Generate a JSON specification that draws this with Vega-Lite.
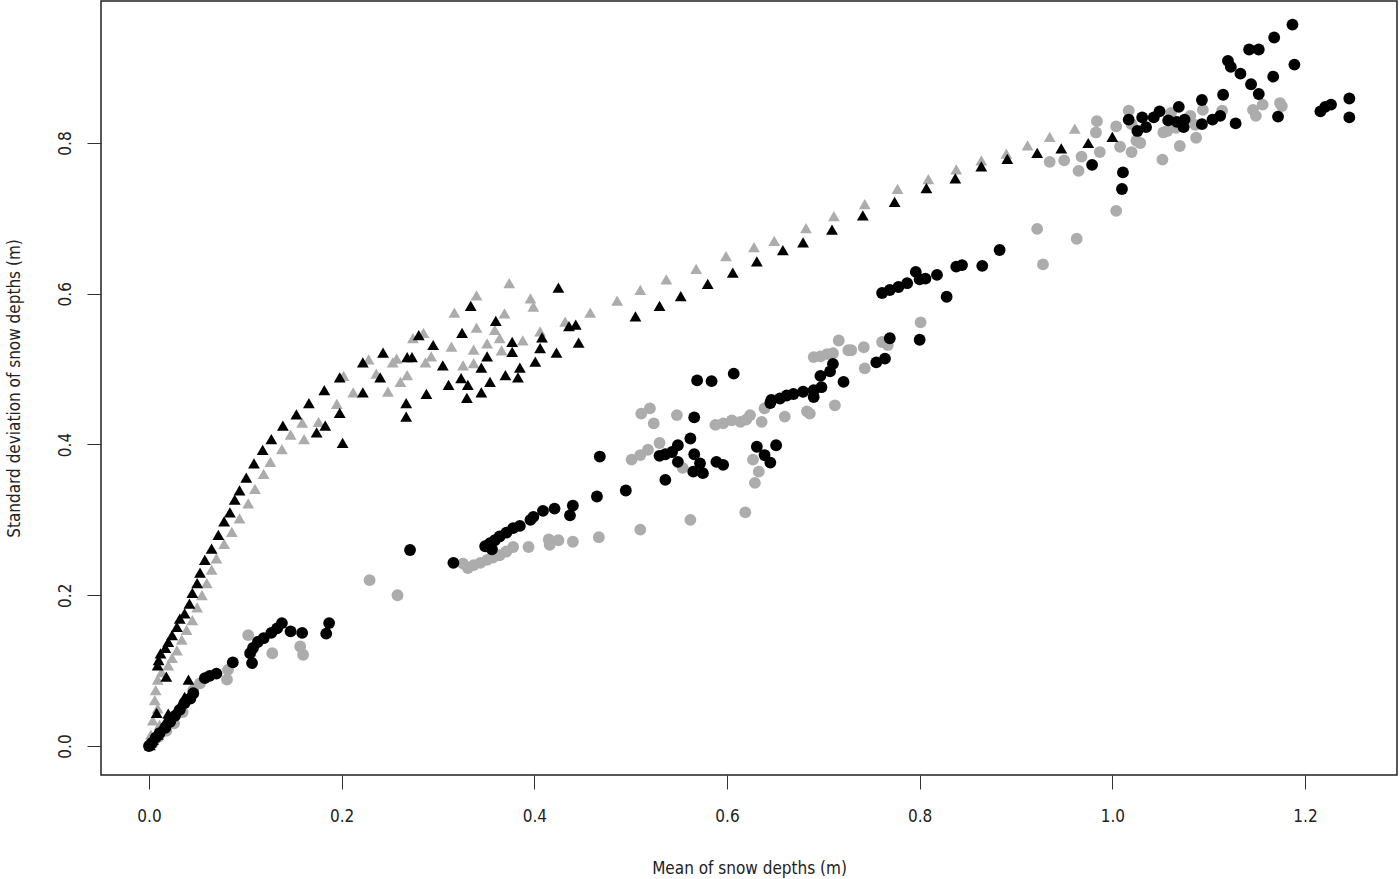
{
  "$schema": "https://vega.github.io/schema/vega-lite/v6.json",
  "width": 1296,
  "height": 774,
  "autosize": {"type": "none"},
  "padding": {"left": 101, "top": 1, "right": 3, "bottom": 104},
  "background": "white",
  "config": {"view": {"stroke": "#222222", "strokeWidth": 1.5}, "font": "'DejaVu Sans Condensed', 'Liberation Sans', sans-serif"},
  "datasets": {
    "pts": [
      {"s":"B","x":0.002,"y":0.015},{"s":"B","x":0.004,"y":0.034},{"s":"B","x":0.011,"y":0.028},{"s":"B","x":0.009,"y":0.050},{"s":"B","x":0.006,"y":0.061},{"s":"B","x":0.007,"y":0.074},{"s":"B","x":0.009,"y":0.088},{"s":"B","x":0.013,"y":0.098},{"s":"B","x":0.020,"y":0.107},{"s":"B","x":0.024,"y":0.117},{"s":"B","x":0.029,"y":0.127},{"s":"B","x":0.034,"y":0.141},{"s":"B","x":0.039,"y":0.154},{"s":"B","x":0.045,"y":0.167},{"s":"B","x":0.050,"y":0.184},{"s":"B","x":0.055,"y":0.200},{"s":"B","x":0.060,"y":0.216},{"s":"B","x":0.065,"y":0.234},{"s":"B","x":0.070,"y":0.249},{"s":"B","x":0.078,"y":0.268},{"s":"B","x":0.086,"y":0.284},{"s":"B","x":0.094,"y":0.302},{"s":"B","x":0.103,"y":0.322},{"s":"B","x":0.110,"y":0.341},{"s":"B","x":0.119,"y":0.361},{"s":"B","x":0.126,"y":0.377},{"s":"B","x":0.138,"y":0.394},{"s":"B","x":0.147,"y":0.413},{"s":"B","x":0.161,"y":0.407},{"s":"B","x":0.159,"y":0.429},{"s":"B","x":0.176,"y":0.430},{"s":"B","x":0.195,"y":0.454},{"s":"B","x":0.202,"y":0.491},{"s":"B","x":0.212,"y":0.469},{"s":"B","x":0.228,"y":0.513},{"s":"B","x":0.236,"y":0.494},{"s":"B","x":0.248,"y":0.470},{"s":"B","x":0.253,"y":0.509},{"s":"B","x":0.257,"y":0.514},{"s":"B","x":0.261,"y":0.483},{"s":"B","x":0.268,"y":0.492},{"s":"B","x":0.274,"y":0.541},{"s":"B","x":0.285,"y":0.548},{"s":"B","x":0.287,"y":0.509},{"s":"B","x":0.293,"y":0.517},{"s":"B","x":0.314,"y":0.530},{"s":"B","x":0.317,"y":0.575},{"s":"B","x":0.326,"y":0.505},{"s":"B","x":0.337,"y":0.508},{"s":"B","x":0.337,"y":0.526},{"s":"B","x":0.340,"y":0.598},{"s":"B","x":0.340,"y":0.555},{"s":"B","x":0.351,"y":0.534},{"s":"B","x":0.359,"y":0.552},{"s":"B","x":0.364,"y":0.541},{"s":"B","x":0.366,"y":0.525},{"s":"B","x":0.369,"y":0.574},{"s":"B","x":0.374,"y":0.614},{"s":"B","x":0.388,"y":0.538},{"s":"B","x":0.396,"y":0.594},{"s":"B","x":0.399,"y":0.583},{"s":"B","x":0.406,"y":0.550},{"s":"B","x":0.432,"y":0.563},{"s":"B","x":0.458,"y":0.575},{"s":"B","x":0.486,"y":0.591},{"s":"B","x":0.510,"y":0.605},{"s":"B","x":0.537,"y":0.619},{"s":"B","x":0.568,"y":0.633},{"s":"B","x":0.599,"y":0.650},{"s":"B","x":0.628,"y":0.662},{"s":"B","x":0.649,"y":0.670},{"s":"B","x":0.682,"y":0.687},{"s":"B","x":0.711,"y":0.703},{"s":"B","x":0.743,"y":0.719},{"s":"B","x":0.777,"y":0.739},{"s":"B","x":0.809,"y":0.752},{"s":"B","x":0.838,"y":0.765},{"s":"B","x":0.864,"y":0.777},{"s":"B","x":0.890,"y":0.786},{"s":"B","x":0.912,"y":0.797},{"s":"B","x":0.935,"y":0.808},{"s":"B","x":0.961,"y":0.819},
      {"s":"D","x":0.004,"y":0.004},{"s":"D","x":0.010,"y":0.012},{"s":"D","x":0.018,"y":0.020},{"s":"D","x":0.026,"y":0.030},{"s":"D","x":0.035,"y":0.045},{"s":"D","x":0.046,"y":0.074},{"s":"D","x":0.053,"y":0.083},{"s":"D","x":0.081,"y":0.088},{"s":"D","x":0.082,"y":0.101},{"s":"D","x":0.103,"y":0.147},{"s":"D","x":0.128,"y":0.123},{"s":"D","x":0.157,"y":0.132},{"s":"D","x":0.160,"y":0.121},{"s":"D","x":0.229,"y":0.220},{"s":"D","x":0.258,"y":0.200},{"s":"D","x":0.326,"y":0.242},{"s":"D","x":0.331,"y":0.236},{"s":"D","x":0.337,"y":0.240},{"s":"D","x":0.344,"y":0.243},{"s":"D","x":0.351,"y":0.247},{"s":"D","x":0.357,"y":0.250},{"s":"D","x":0.364,"y":0.253},{"s":"D","x":0.371,"y":0.258},{"s":"D","x":0.378,"y":0.264},{"s":"D","x":0.394,"y":0.264},{"s":"D","x":0.415,"y":0.274},{"s":"D","x":0.416,"y":0.267},{"s":"D","x":0.425,"y":0.273},{"s":"D","x":0.440,"y":0.271},{"s":"D","x":0.467,"y":0.277},{"s":"D","x":0.510,"y":0.287},{"s":"D","x":0.501,"y":0.380},{"s":"D","x":0.510,"y":0.386},{"s":"D","x":0.518,"y":0.393},{"s":"D","x":0.530,"y":0.402},{"s":"D","x":0.511,"y":0.441},{"s":"D","x":0.520,"y":0.448},{"s":"D","x":0.524,"y":0.428},{"s":"D","x":0.548,"y":0.439},{"s":"D","x":0.554,"y":0.369},{"s":"D","x":0.562,"y":0.300},{"s":"D","x":0.588,"y":0.426},{"s":"D","x":0.596,"y":0.428},{"s":"D","x":0.605,"y":0.432},{"s":"D","x":0.614,"y":0.430},{"s":"D","x":0.620,"y":0.433},{"s":"D","x":0.624,"y":0.439},{"s":"D","x":0.619,"y":0.310},{"s":"D","x":0.627,"y":0.380},{"s":"D","x":0.629,"y":0.349},{"s":"D","x":0.633,"y":0.364},{"s":"D","x":0.636,"y":0.430},{"s":"D","x":0.639,"y":0.448},{"s":"D","x":0.660,"y":0.437},{"s":"D","x":0.683,"y":0.444},{"s":"D","x":0.686,"y":0.441},{"s":"D","x":0.690,"y":0.516},{"s":"D","x":0.697,"y":0.517},{"s":"D","x":0.704,"y":0.520},{"s":"D","x":0.710,"y":0.521},{"s":"D","x":0.712,"y":0.452},{"s":"D","x":0.716,"y":0.538},{"s":"D","x":0.726,"y":0.525},{"s":"D","x":0.729,"y":0.525},{"s":"D","x":0.742,"y":0.529},{"s":"D","x":0.743,"y":0.501},{"s":"D","x":0.761,"y":0.536},{"s":"D","x":0.767,"y":0.532},{"s":"D","x":0.801,"y":0.562},{"s":"D","x":0.922,"y":0.686},{"s":"D","x":0.928,"y":0.639},{"s":"D","x":0.963,"y":0.673},{"s":"D","x":0.935,"y":0.775},{"s":"D","x":0.950,"y":0.777},{"s":"D","x":0.965,"y":0.763},{"s":"D","x":0.968,"y":0.782},{"s":"D","x":0.983,"y":0.814},{"s":"D","x":0.984,"y":0.829},{"s":"D","x":0.987,"y":0.788},{"s":"D","x":1.004,"y":0.822},{"s":"D","x":1.004,"y":0.710},{"s":"D","x":1.008,"y":0.795},{"s":"D","x":1.017,"y":0.843},{"s":"D","x":1.020,"y":0.825},{"s":"D","x":1.020,"y":0.788},{"s":"D","x":1.025,"y":0.803},{"s":"D","x":1.029,"y":0.800},{"s":"D","x":1.052,"y":0.778},{"s":"D","x":1.053,"y":0.814},{"s":"D","x":1.057,"y":0.816},{"s":"D","x":1.061,"y":0.840},{"s":"D","x":1.066,"y":0.820},{"s":"D","x":1.070,"y":0.796},{"s":"D","x":1.081,"y":0.836},{"s":"D","x":1.086,"y":0.824},{"s":"D","x":1.087,"y":0.807},{"s":"D","x":1.094,"y":0.844},{"s":"D","x":1.114,"y":0.843},{"s":"D","x":1.146,"y":0.844},{"s":"D","x":1.149,"y":0.836},{"s":"D","x":1.156,"y":0.851},{"s":"D","x":1.174,"y":0.853},{"s":"D","x":1.176,"y":0.849},
      {"s":"A","x":0.001,"y":0.001},{"s":"A","x":0.004,"y":0.008},{"s":"A","x":0.009,"y":0.015},{"s":"A","x":0.013,"y":0.024},{"s":"A","x":0.017,"y":0.032},{"s":"A","x":0.022,"y":0.037},{"s":"A","x":0.008,"y":0.044},{"s":"A","x":0.020,"y":0.043},{"s":"A","x":0.027,"y":0.045},{"s":"A","x":0.032,"y":0.054},{"s":"A","x":0.037,"y":0.065},{"s":"A","x":0.018,"y":0.092},{"s":"A","x":0.041,"y":0.088},{"s":"A","x":0.009,"y":0.107},{"s":"A","x":0.010,"y":0.114},{"s":"A","x":0.012,"y":0.123},{"s":"A","x":0.017,"y":0.130},{"s":"A","x":0.020,"y":0.138},{"s":"A","x":0.024,"y":0.147},{"s":"A","x":0.029,"y":0.158},{"s":"A","x":0.032,"y":0.169},{"s":"A","x":0.037,"y":0.176},{"s":"A","x":0.042,"y":0.189},{"s":"A","x":0.045,"y":0.203},{"s":"A","x":0.050,"y":0.216},{"s":"A","x":0.053,"y":0.230},{"s":"A","x":0.058,"y":0.247},{"s":"A","x":0.065,"y":0.262},{"s":"A","x":0.072,"y":0.280},{"s":"A","x":0.078,"y":0.298},{"s":"A","x":0.084,"y":0.310},{"s":"A","x":0.089,"y":0.327},{"s":"A","x":0.094,"y":0.339},{"s":"A","x":0.101,"y":0.356},{"s":"A","x":0.109,"y":0.375},{"s":"A","x":0.118,"y":0.393},{"s":"A","x":0.127,"y":0.407},{"s":"A","x":0.139,"y":0.425},{"s":"A","x":0.153,"y":0.440},{"s":"A","x":0.166,"y":0.455},{"s":"A","x":0.182,"y":0.472},{"s":"A","x":0.198,"y":0.489},{"s":"A","x":0.198,"y":0.442},{"s":"A","x":0.183,"y":0.425},{"s":"A","x":0.174,"y":0.416},{"s":"A","x":0.201,"y":0.402},{"s":"A","x":0.222,"y":0.469},{"s":"A","x":0.222,"y":0.509},{"s":"A","x":0.240,"y":0.489},{"s":"A","x":0.243,"y":0.522},{"s":"A","x":0.267,"y":0.455},{"s":"A","x":0.267,"y":0.437},{"s":"A","x":0.268,"y":0.516},{"s":"A","x":0.273,"y":0.516},{"s":"A","x":0.280,"y":0.545},{"s":"A","x":0.288,"y":0.467},{"s":"A","x":0.295,"y":0.532},{"s":"A","x":0.305,"y":0.505},{"s":"A","x":0.311,"y":0.479},{"s":"A","x":0.324,"y":0.488},{"s":"A","x":0.325,"y":0.548},{"s":"A","x":0.330,"y":0.462},{"s":"A","x":0.331,"y":0.479},{"s":"A","x":0.334,"y":0.584},{"s":"A","x":0.345,"y":0.502},{"s":"A","x":0.345,"y":0.469},{"s":"A","x":0.351,"y":0.517},{"s":"A","x":0.354,"y":0.483},{"s":"A","x":0.360,"y":0.564},{"s":"A","x":0.370,"y":0.492},{"s":"A","x":0.377,"y":0.536},{"s":"A","x":0.377,"y":0.523},{"s":"A","x":0.383,"y":0.489},{"s":"A","x":0.385,"y":0.502},{"s":"A","x":0.401,"y":0.510},{"s":"A","x":0.406,"y":0.528},{"s":"A","x":0.408,"y":0.542},{"s":"A","x":0.423,"y":0.522},{"s":"A","x":0.425,"y":0.608},{"s":"A","x":0.436,"y":0.557},{"s":"A","x":0.443,"y":0.559},{"s":"A","x":0.446,"y":0.535},{"s":"A","x":0.505,"y":0.570},{"s":"A","x":0.530,"y":0.584},{"s":"A","x":0.552,"y":0.597},{"s":"A","x":0.580,"y":0.613},{"s":"A","x":0.606,"y":0.628},{"s":"A","x":0.631,"y":0.643},{"s":"A","x":0.658,"y":0.658},{"s":"A","x":0.679,"y":0.668},{"s":"A","x":0.709,"y":0.685},{"s":"A","x":0.741,"y":0.704},{"s":"A","x":0.774,"y":0.722},{"s":"A","x":0.807,"y":0.740},{"s":"A","x":0.837,"y":0.753},{"s":"A","x":0.864,"y":0.769},{"s":"A","x":0.891,"y":0.779},{"s":"A","x":0.922,"y":0.787},{"s":"A","x":0.947,"y":0.793},{"s":"A","x":0.975,"y":0.800},{"s":"A","x":1.000,"y":0.808},
      {"s":"C","x":0.000,"y":0.000},{"s":"C","x":0.003,"y":0.004},{"s":"C","x":0.007,"y":0.011},{"s":"C","x":0.011,"y":0.017},{"s":"C","x":0.017,"y":0.024},{"s":"C","x":0.022,"y":0.032},{"s":"C","x":0.027,"y":0.040},{"s":"C","x":0.032,"y":0.048},{"s":"C","x":0.037,"y":0.057},{"s":"C","x":0.043,"y":0.063},{"s":"C","x":0.046,"y":0.070},{"s":"C","x":0.058,"y":0.090},{"s":"C","x":0.063,"y":0.093},{"s":"C","x":0.070,"y":0.096},{"s":"C","x":0.087,"y":0.111},{"s":"C","x":0.105,"y":0.123},{"s":"C","x":0.107,"y":0.110},{"s":"C","x":0.108,"y":0.130},{"s":"C","x":0.113,"y":0.138},{"s":"C","x":0.119,"y":0.143},{"s":"C","x":0.127,"y":0.150},{"s":"C","x":0.133,"y":0.156},{"s":"C","x":0.138,"y":0.163},{"s":"C","x":0.147,"y":0.152},{"s":"C","x":0.159,"y":0.150},{"s":"C","x":0.184,"y":0.149},{"s":"C","x":0.187,"y":0.163},{"s":"C","x":0.271,"y":0.260},{"s":"C","x":0.316,"y":0.243},{"s":"C","x":0.349,"y":0.265},{"s":"C","x":0.354,"y":0.269},{"s":"C","x":0.356,"y":0.261},{"s":"C","x":0.359,"y":0.273},{"s":"C","x":0.364,"y":0.278},{"s":"C","x":0.371,"y":0.283},{"s":"C","x":0.378,"y":0.289},{"s":"C","x":0.385,"y":0.292},{"s":"C","x":0.396,"y":0.300},{"s":"C","x":0.399,"y":0.304},{"s":"C","x":0.409,"y":0.312},{"s":"C","x":0.421,"y":0.315},{"s":"C","x":0.437,"y":0.306},{"s":"C","x":0.440,"y":0.319},{"s":"C","x":0.465,"y":0.331},{"s":"C","x":0.468,"y":0.384},{"s":"C","x":0.495,"y":0.339},{"s":"C","x":0.530,"y":0.385},{"s":"C","x":0.536,"y":0.387},{"s":"C","x":0.536,"y":0.353},{"s":"C","x":0.543,"y":0.390},{"s":"C","x":0.549,"y":0.399},{"s":"C","x":0.549,"y":0.377},{"s":"C","x":0.562,"y":0.408},{"s":"C","x":0.565,"y":0.364},{"s":"C","x":0.566,"y":0.436},{"s":"C","x":0.566,"y":0.387},{"s":"C","x":0.569,"y":0.485},{"s":"C","x":0.572,"y":0.375},{"s":"C","x":0.575,"y":0.362},{"s":"C","x":0.584,"y":0.484},{"s":"C","x":0.589,"y":0.377},{"s":"C","x":0.596,"y":0.373},{"s":"C","x":0.607,"y":0.494},{"s":"C","x":0.631,"y":0.397},{"s":"C","x":0.639,"y":0.386},{"s":"C","x":0.645,"y":0.376},{"s":"C","x":0.645,"y":0.455},{"s":"C","x":0.646,"y":0.459},{"s":"C","x":0.651,"y":0.399},{"s":"C","x":0.655,"y":0.461},{"s":"C","x":0.662,"y":0.465},{"s":"C","x":0.669,"y":0.467},{"s":"C","x":0.679,"y":0.470},{"s":"C","x":0.690,"y":0.472},{"s":"C","x":0.690,"y":0.463},{"s":"C","x":0.697,"y":0.491},{"s":"C","x":0.698,"y":0.476},{"s":"C","x":0.707,"y":0.497},{"s":"C","x":0.710,"y":0.507},{"s":"C","x":0.721,"y":0.483},{"s":"C","x":0.755,"y":0.509},{"s":"C","x":0.761,"y":0.601},{"s":"C","x":0.764,"y":0.514},{"s":"C","x":0.769,"y":0.541},{"s":"C","x":0.769,"y":0.605},{"s":"C","x":0.778,"y":0.609},{"s":"C","x":0.787,"y":0.614},{"s":"C","x":0.796,"y":0.629},{"s":"C","x":0.800,"y":0.619},{"s":"C","x":0.800,"y":0.539},{"s":"C","x":0.806,"y":0.620},{"s":"C","x":0.818,"y":0.625},{"s":"C","x":0.828,"y":0.596},{"s":"C","x":0.838,"y":0.636},{"s":"C","x":0.844,"y":0.638},{"s":"C","x":0.865,"y":0.637},{"s":"C","x":0.883,"y":0.658},{"s":"C","x":0.979,"y":0.771},{"s":"C","x":1.010,"y":0.739},{"s":"C","x":1.011,"y":0.761},{"s":"C","x":1.017,"y":0.831},{"s":"C","x":1.026,"y":0.816},{"s":"C","x":1.031,"y":0.834},{"s":"C","x":1.035,"y":0.821},{"s":"C","x":1.043,"y":0.834},{"s":"C","x":1.049,"y":0.842},{"s":"C","x":1.058,"y":0.830},{"s":"C","x":1.067,"y":0.828},{"s":"C","x":1.069,"y":0.848},{"s":"C","x":1.074,"y":0.821},{"s":"C","x":1.075,"y":0.831},{"s":"C","x":1.093,"y":0.857},{"s":"C","x":1.093,"y":0.825},{"s":"C","x":1.104,"y":0.831},{"s":"C","x":1.112,"y":0.836},{"s":"C","x":1.115,"y":0.864},{"s":"C","x":1.120,"y":0.909},{"s":"C","x":1.123,"y":0.901},{"s":"C","x":1.128,"y":0.826},{"s":"C","x":1.133,"y":0.892},{"s":"C","x":1.142,"y":0.924},{"s":"C","x":1.144,"y":0.878},{"s":"C","x":1.152,"y":0.924},{"s":"C","x":1.152,"y":0.865},{"s":"C","x":1.167,"y":0.888},{"s":"C","x":1.168,"y":0.940},{"s":"C","x":1.172,"y":0.835},{"s":"C","x":1.187,"y":0.957},{"s":"C","x":1.189,"y":0.904},{"s":"C","x":1.216,"y":0.842},{"s":"C","x":1.221,"y":0.848},{"s":"C","x":1.227,"y":0.851},{"s":"C","x":1.246,"y":0.859},{"s":"C","x":1.246,"y":0.834}
    ]
  },
  "data": {"name": "pts"},
  "mark": {"type": "point", "filled": true, "opacity": 1, "strokeWidth": 0},
  "encoding": {
    "x": {
      "field": "x", "type": "quantitative",
      "scale": {"domain": [-0.0498, 1.2955], "nice": false, "zero": false},
      "axis": {
        "values": [0, 0.2, 0.4, 0.6, 0.8, 1.0, 1.2], "format": ".1f",
        "domain": false, "grid": false, "tickSize": 14, "tickColor": "#333333", "tickWidth": 1,
        "labelFontSize": 17, "labelColor": "#222222", "labelPadding": 19, "labelFlush": false, "labelOverlap": false,
        "title": "Mean of snow depths  (m)", "titleFontSize": 17, "titleFontWeight": "normal", "titleColor": "#222222", "titlePadding": 36
      }
    },
    "y": {
      "field": "y", "type": "quantitative",
      "scale": {"domain": [-0.0385, 0.9884], "nice": false, "zero": false},
      "axis": {
        "values": [0, 0.2, 0.4, 0.6, 0.8], "format": ".1f",
        "domain": false, "grid": false, "tickSize": 14, "tickColor": "#333333", "tickWidth": 1,
        "labelFontSize": 17, "labelColor": "#222222", "labelAngle": -90, "labelAlign": "center", "labelBaseline": "alphabetic", "labelPadding": 17, "labelFlush": false, "labelOverlap": false,
        "title": "Standard deviation of snow depths (m)", "titleFontSize": 17, "titleFontWeight": "normal", "titleColor": "#222222", "titlePadding": 33
      }
    },
    "shape": {"field": "s", "type": "nominal", "scale": {"domain": ["A", "B", "C", "D"], "range": ["triangle-up", "triangle-up", "circle", "circle"]}, "legend": null},
    "color": {"field": "s", "type": "nominal", "scale": {"domain": ["A", "B", "C", "D"], "range": ["#000000", "#acacac", "#000000", "#acacac"]}, "legend": null},
    "size": {"field": "s", "type": "nominal", "scale": {"domain": ["A", "B", "C", "D"], "range": [140, 140, 105, 105]}, "legend": null}
  }
}
